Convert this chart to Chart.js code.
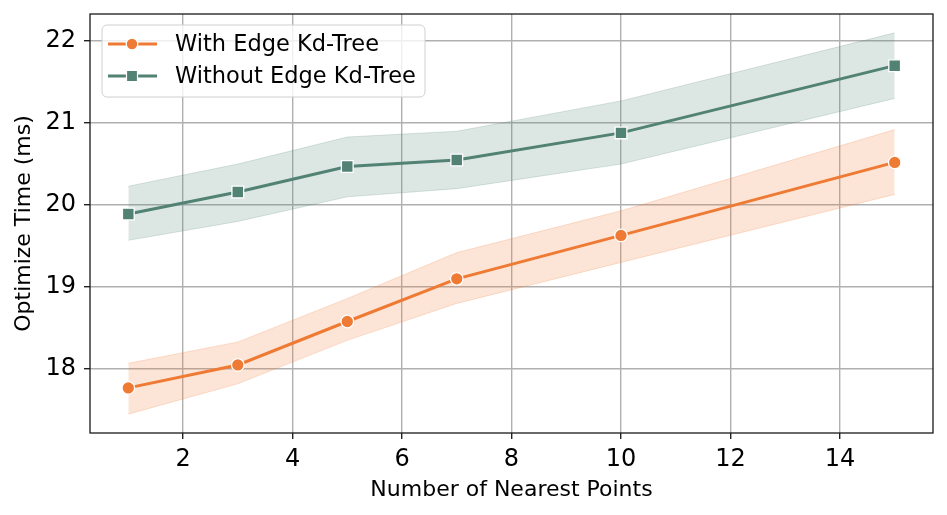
<!DOCTYPE html>
<html>
<head>
<meta charset="utf-8">
<script src="https://cdn.jsdelivr.net/npm/chart.js@4/dist/chart.umd.min.js"></script>
<style>
  body { margin: 0; background: #fff; }
  #wrap { width: 947px; height: 515px; }
</style>
</head>
<body>
<div id="wrap"><canvas id="optChart" width="947" height="515"></canvas></div>
<script>
// data
var points = [1, 3, 5, 7, 10, 15];
var withTree = [17.77, 18.05, 18.58, 19.10, 19.63, 20.52];
var withTreeLow = [17.45, 17.82, 18.35, 18.80, 19.30, 20.13];
var withTreeHigh = [18.07, 18.33, 18.86, 19.42, 19.93, 20.92];
var withoutTree = [19.89, 20.16, 20.47, 20.55, 20.88, 21.70];
var withoutTreeLow = [19.57, 19.80, 20.10, 20.20, 20.50, 21.30];
var withoutTreeHigh = [20.23, 20.50, 20.83, 20.90, 21.27, 22.10];
var xTicks = [2, 4, 6, 8, 10, 12, 14];
var yTicks = [18, 19, 20, 21, 22];

var orange = '#ee7a33';
var green = '#528273';
var font = 'DejaVu Sans';

function xy(vals) {
	var out = [];
	for (var i = 0; i < points.length; i++) {
		out.push({ x: points[i], y: vals[i] });
	}
	return out;
}

function band(vals, col, fill) {
	return {
		label: '',
		data: xy(vals),
		borderColor: col,
		borderWidth: 1,
		backgroundColor: col,
		pointRadius: 0,
		fill: fill,
		tension: 0
	};
}

// frame round the plot + legend box inside it
var framePlugin = {
	id: 'frame',
	afterDraw: function(chart) {
		var ctx = chart.ctx;
		var a = chart.chartArea;
		ctx.save();
		ctx.strokeStyle = '#1a1a1a';
		ctx.lineWidth = 1.3;
		ctx.strokeRect(a.left, a.top, a.right - a.left, a.bottom - a.top);

		// legend
		var bx = 102, by = 25, bw = 323, bh = 72, r = 5;
		ctx.beginPath();
		ctx.moveTo(bx + r, by);
		ctx.arcTo(bx + bw, by, bx + bw, by + bh, r);
		ctx.arcTo(bx + bw, by + bh, bx, by + bh, r);
		ctx.arcTo(bx, by + bh, bx, by, r);
		ctx.arcTo(bx, by, bx + bw, by, r);
		ctx.closePath();
		ctx.fillStyle = 'rgba(255,255,255,0.8)';
		ctx.fill();
		ctx.strokeStyle = '#d0d0d0';
		ctx.lineWidth = 1;
		ctx.stroke();

		for (var i = 0; i < 2; i++) {
			var ds = chart.data.datasets[i];
			var y = 44 + i * 32;
			ctx.strokeStyle = ds.borderColor;
			ctx.lineWidth = 3;
			ctx.beginPath();
			ctx.moveTo(108, y);
			ctx.lineTo(157, y);
			ctx.stroke();
			ctx.fillStyle = ds.borderColor;
			ctx.strokeStyle = '#fff';
			ctx.lineWidth = 1.2;
			ctx.beginPath();
			if (ds.pointStyle == 'rect') {
				ctx.rect(132 - 5.5, y - 5.5, 11, 11);
			} else {
				ctx.arc(132, y, 5.8, 0, Math.PI * 2);
			}
			ctx.fill();
			ctx.stroke();
			ctx.fillStyle = '#000';
			ctx.font = '22.5px "' + font + '"';
			ctx.textBaseline = 'middle';
			ctx.textAlign = 'left';
			ctx.fillText(ds.label, 175, y + 1);
		}
		ctx.restore();
	}
};

var ctxD = document.getElementById('optChart').getContext('2d');
var myLineChart = new Chart(ctxD, {
	type: 'line',
	data: {
		datasets: [
			{
				label: 'With Edge Kd-Tree',
				data: xy(withTree),
				borderColor: orange,
				backgroundColor: orange,
				borderWidth: 3,
				pointStyle: 'circle',
				pointRadius: 6.3,
				pointBorderColor: '#fff',
				pointBorderWidth: 1.3,
				pointBackgroundColor: orange,
				fill: false,
				tension: 0
			},
			{
				label: 'Without Edge Kd-Tree',
				data: xy(withoutTree),
				borderColor: green,
				backgroundColor: green,
				borderWidth: 3,
				pointStyle: 'rect',
				pointRadius: 8.3,
				pointBorderColor: '#fff',
				pointBorderWidth: 1.3,
				pointBackgroundColor: green,
				fill: false,
				tension: 0
			},
			band(withTreeHigh, 'rgba(238,122,51,0.2)', '+1'),
			band(withTreeLow, 'rgba(238,122,51,0.2)', false),
			band(withoutTreeHigh, 'rgba(82,130,115,0.2)', '+1'),
			band(withoutTreeLow, 'rgba(82,130,115,0.2)', false)
		]
	},
	options: {
		responsive: false,
		animation: false,
		devicePixelRatio: 1,
		layout: { padding: { left: 0, right: 14, top: 14, bottom: 0 } },
		plugins: {
			legend: { display: false },
			tooltip: { enabled: false }
		},
		scales: {
			x: {
				type: 'linear',
				min: 0.3,
				max: 15.7,
				afterFit: function(scale) {
					scale.height = 82;
					scale.paddingLeft = 0;
					scale.paddingRight = 0;
				},
				afterBuildTicks: function(scale) {
					scale.ticks = xTicks.map(function(v) { return { value: v }; });
				},
				ticks: {
					color: '#000',
					font: { family: font, size: 24 },
					padding: 6,
					maxRotation: 0
				},
				grid: {
					color: '#b0b0b0',
					lineWidth: 1.4,
					tickColor: '#222',
					tickLength: 6
				},
				border: { display: false },
				title: {
					display: true,
					text: 'Number of Nearest Points',
					color: '#000',
					font: { family: font, size: 22 },
					padding: { top: 0, bottom: 12 }
				}
			},
			y: {
				min: 17.22,
				max: 22.33,
				afterFit: function(scale) {
					scale.width = 90;
					scale.paddingTop = 0;
					scale.paddingBottom = 0;
				},
				afterBuildTicks: function(scale) {
					scale.ticks = yTicks.map(function(v) { return { value: v }; });
				},
				ticks: {
					color: '#000',
					font: { family: font, size: 24 },
					padding: 8
				},
				grid: {
					color: '#b0b0b0',
					lineWidth: 1.4,
					tickColor: '#222',
					tickLength: 6
				},
				border: { display: false },
				title: {
					display: true,
					text: 'Optimize Time (ms)',
					color: '#000',
					font: { family: font, size: 22 },
					padding: { top: 11, bottom: 0 }
				}
			}
		}
	},
	plugins: [framePlugin]
});
</script>
</body>
</html>
